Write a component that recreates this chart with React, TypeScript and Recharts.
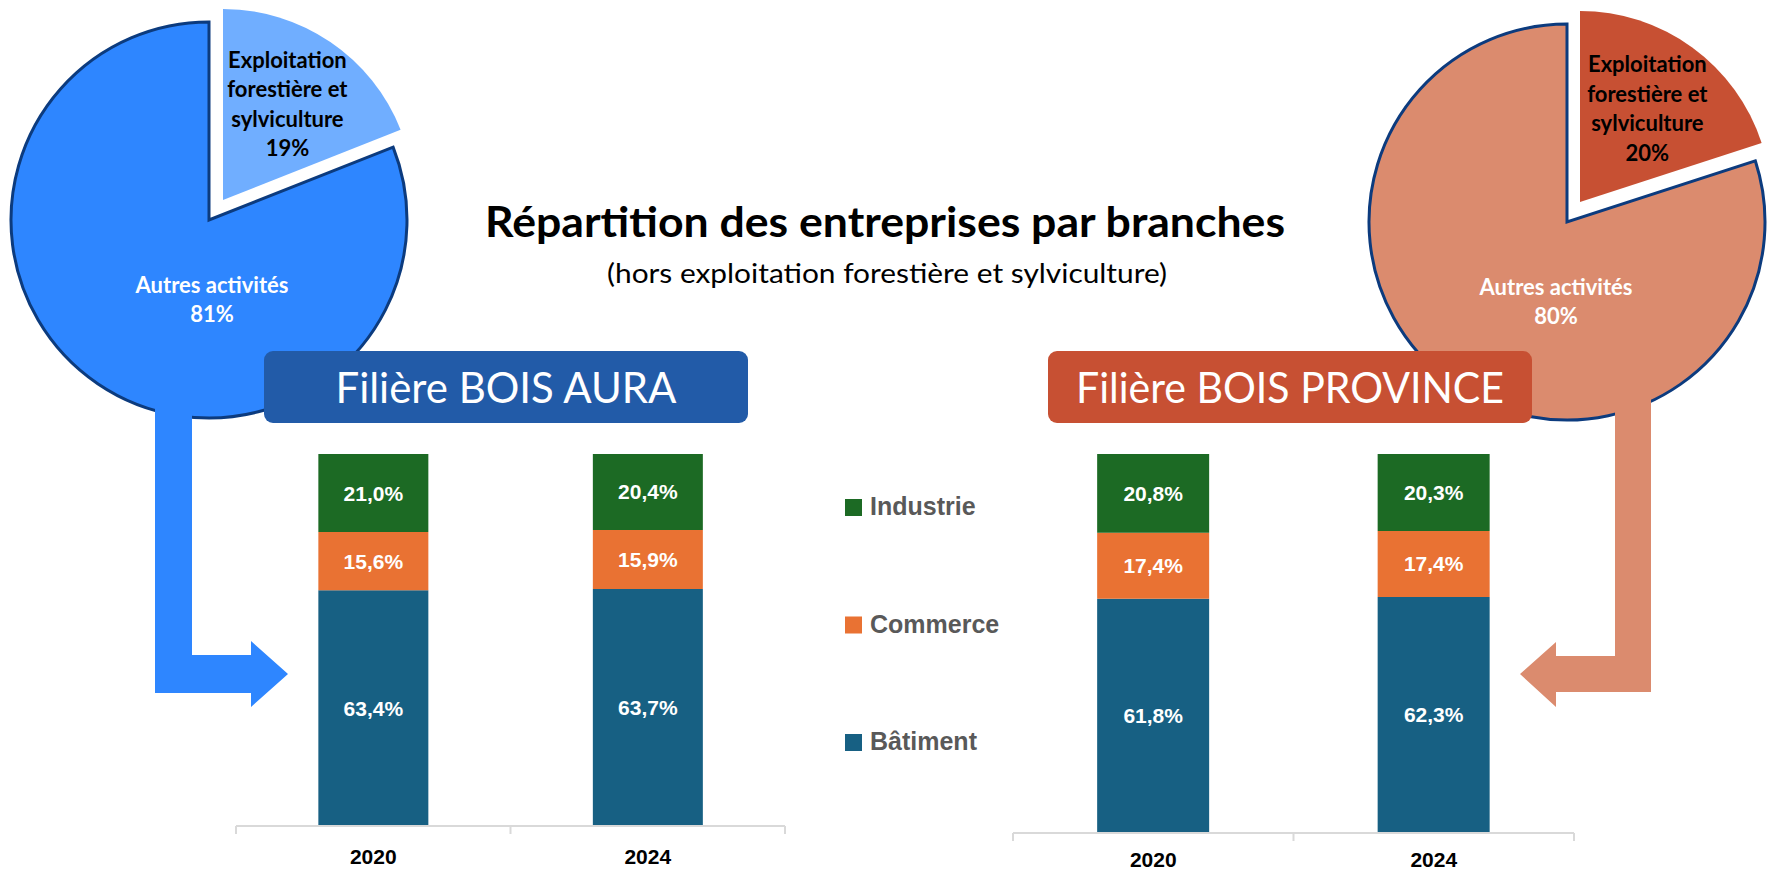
import React from 'react';
import { BarChart, Bar, XAxis, YAxis, LabelList, PieChart, Pie, Cell } from 'recharts';

// catégories et séries
const years = ['2020', '2024'];
const seriesNames = ['Bâtiment', 'Commerce', 'Industrie'];
const seriesColors = ['#176083', '#e97233', '#1c6a24'];

const auraBatiment = [63.4, 63.7];
const auraCommerce = [15.6, 15.9];
const auraIndustrie = [21.0, 20.4];

const provBatiment = [61.8, 62.3];
const provCommerce = [17.4, 17.4];
const provIndustrie = [20.8, 20.3];

const pieNames = ['Exploitation forestière et sylviculture', 'Autres activités'];
const auraPie = [19, 81];
const provPie = [20, 80];

const toRows = (bat: number[], com: number[], ind: number[]) =>
  years.map((y, i) => ({ year: y, batiment: bat[i], commerce: com[i], industrie: ind[i] }));

const toSlices = (vals: number[]) => pieNames.map((n, i) => ({ name: n, value: vals[i] }));

const RAD = Math.PI / 180;
const CAL = 'Lato, "Open Sans", sans-serif';
const ARIAL = '"Liberation Sans", Arial, sans-serif';
const NAVY = '#0c3b7e';
const AXIS = '#d9d9d9';

const fmt = (v: any) => `${Number(v).toFixed(1).replace('.', ',')}%`;

function outerLabel(props: any) {
  const { cx, cy, midAngle, outerRadius, index, value } = props;
  if (index !== 0) return null;
  const r = outerRadius * 0.6;
  const x = cx + r * Math.cos(-midAngle * RAD);
  const y = cy + r * Math.sin(-midAngle * RAD);
  const lines = ['Exploitation', 'forestière et', 'sylviculture', `${value}%`];
  const lh = 29.5;
  return (
    <text x={x} y={y - 1.5 * lh + 7} textAnchor="middle" fill="#000" fontFamily={CAL} fontWeight={700} fontSize={22}>
      {lines.map((l, i) => (
        <tspan key={i} x={x} dy={i === 0 ? 0 : lh}>{l}</tspan>
      ))}
    </text>
  );
}

const makeInnerLabel = (dx: number) => (props: any) => {
  const { cx, cy, outerRadius, index, value } = props;
  if (index !== 1) return null;
  const y = cy + outerRadius * 0.37;
  const x = cx + dx;
  return (
    <text x={x} y={y} textAnchor="middle" fill="#fff" fontFamily={CAL} fontWeight={700} fontSize={22}>
      <tspan x={x} dy={0}>Autres activités</tspan>
      <tspan x={x} dy={29}>{`${value}%`}</tspan>
    </text>
  );
};

function ExplodedPie({ data, left, cx, cy, dx, dy, labelDx, mainColor, sliceColor }: any) {
  return (
    <div style={{ position: 'absolute', left, top: 0 }}>
      <PieChart width={430} height={430} margin={{ top: 0, right: 0, bottom: 0, left: 0 }}>
        <Pie
          data={data}
          dataKey="value"
          nameKey="name"
          cx={cx}
          cy={cy}
          outerRadius={198}
          startAngle={90}
          endAngle={-270}
          label={makeInnerLabel(labelDx)}
          labelLine={false}
          isAnimationActive={false}
        >
          <Cell fill="none" stroke="none" />
          <Cell fill={mainColor} stroke={NAVY} strokeWidth={3} />
        </Pie>
        <Pie
          data={data}
          dataKey="value"
          nameKey="name"
          cx={cx + dx}
          cy={cy + dy}
          outerRadius={191}
          startAngle={90}
          endAngle={-270}
          label={outerLabel}
          labelLine={false}
          isAnimationActive={false}
        >
          <Cell fill={sliceColor} stroke="none" />
          <Cell fill="none" stroke="none" />
        </Pie>
      </PieChart>
    </div>
  );
}

// tick label + tick marks on category boundaries (Excel style)
function YearTick(props: any) {
  const { x, y, payload, width, index, visibleTicksCount, lift = 0 } = props;
  const half = width / visibleTicksCount / 2;
  const top = y - 23;
  return (
    <g>
      <line x1={x - half} x2={x - half} y1={top} y2={top + 8} stroke={AXIS} strokeWidth={2} />
      {index === visibleTicksCount - 1 && (
        <line x1={x + half} x2={x + half} y1={top} y2={top + 8} stroke={AXIS} strokeWidth={2} />
      )}
      <text x={x} y={y - lift} dy="0.71em" textAnchor="middle" fill="#000" fontFamily={ARIAL} fontWeight={700} fontSize={21}>
        {payload.value}
      </text>
    </g>
  );
}

function StackedBars({ data, left, width, bottomGap, lift }: any) {
  const keys = ['batiment', 'commerce', 'industrie'];
  return (
    <div style={{ position: 'absolute', left: left - 2, top: 440 }}>
      <BarChart width={width + 4} height={432} data={data} margin={{ top: 14, right: 2, bottom: 0, left: 2 }} barCategoryGap="30%">
        <XAxis
          dataKey="year"
          height={bottomGap}
          axisLine={{ stroke: AXIS, strokeWidth: 2 }}
          tickLine={false}
          tickSize={8}
          tickMargin={15}
          tick={<YearTick lift={lift} />}
          interval={0}
        />
        <YAxis hide domain={[0, 100]} />
        {keys.map((k, i) => (
          <Bar key={k} dataKey={k} stackId="s" fill={seriesColors[i]} isAnimationActive={false}>
            <LabelList
              dataKey={k}
              position="center"
              formatter={fmt}
              fill="#fff"
              style={{ fontFamily: ARIAL, fontWeight: 700, fontSize: 21 }}
            />
          </Bar>
        ))}
      </BarChart>
    </div>
  );
}

export default function App() {
  const legendOrder = [2, 1, 0];
  return (
    <div style={{ position: 'absolute', left: 0, top: 0, width: 1771, height: 872, overflow: 'hidden', background: '#fff' }}>
      <ExplodedPie data={toSlices(auraPie)} left={0} cx={209} cy={220} dx={14} dy={-20} labelDx={3} mainColor="#2e86ff" sliceColor="#70aeff" />
      <ExplodedPie data={toSlices(provPie)} left={1341} cx={226} cy={222} dx={13} dy={-20} labelDx={-11} mainColor="#db8b6e" sliceColor="#c75033" />

      <svg width={1771} height={872} style={{ position: 'absolute', left: 0, top: 0 }}>
        <polygon points="155,390 192,390 192,655 251,655 251,641 288,674 251,707 251,693 155,693" fill="#2e86ff" />
        <polygon points="1651,390 1615,390 1615,656 1556,656 1556,642 1520,674 1556,707 1556,692 1651,692" fill="#db8b6e" />

        <rect x={264} y={351} width={484} height={72} rx={9} fill="#225ba8" />
        <text x={506} y={403} textAnchor="middle" fill="#fff" fontFamily={CAL} fontSize={42} textLength={341} lengthAdjust="spacingAndGlyphs">
          Filière BOIS AURA
        </text>
        <rect x={1048} y={351} width={484} height={72} rx={9} fill="#c75033" />
        <text x={1290} y={403} textAnchor="middle" fill="#fff" fontFamily={CAL} fontSize={42} textLength={428} lengthAdjust="spacingAndGlyphs">
          Filière BOIS PROVINCE
        </text>

        <text x={885} y={237} textAnchor="middle" fill="#000" fontFamily={CAL} fontWeight={700} fontSize={42} textLength={800} lengthAdjust="spacingAndGlyphs">
          Répartition des entreprises par branches
        </text>
        <text x={887} y={283} textAnchor="middle" fill="#000" fontFamily={CAL} fontSize={27} textLength={560} lengthAdjust="spacingAndGlyphs">
          (hors exploitation forestière et sylviculture)
        </text>

        {legendOrder.map((s, i) => (
          <g key={s}>
            <rect x={845} y={499 + i * 117.5} width={17} height={17} fill={seriesColors[s]} />
            <text x={870} y={515 + i * 117.5} fill="#595959" fontFamily={ARIAL} fontWeight={700} fontSize={25}>
              {seriesNames[s]}
            </text>
          </g>
        ))}
      </svg>

      <StackedBars data={toRows(auraBatiment, auraCommerce, auraIndustrie)} left={236} width={549} bottomGap={46} lift={0} />
      <StackedBars data={toRows(provBatiment, provCommerce, provIndustrie)} left={1013} width={561} bottomGap={39} lift={4} />
    </div>
  );
}
